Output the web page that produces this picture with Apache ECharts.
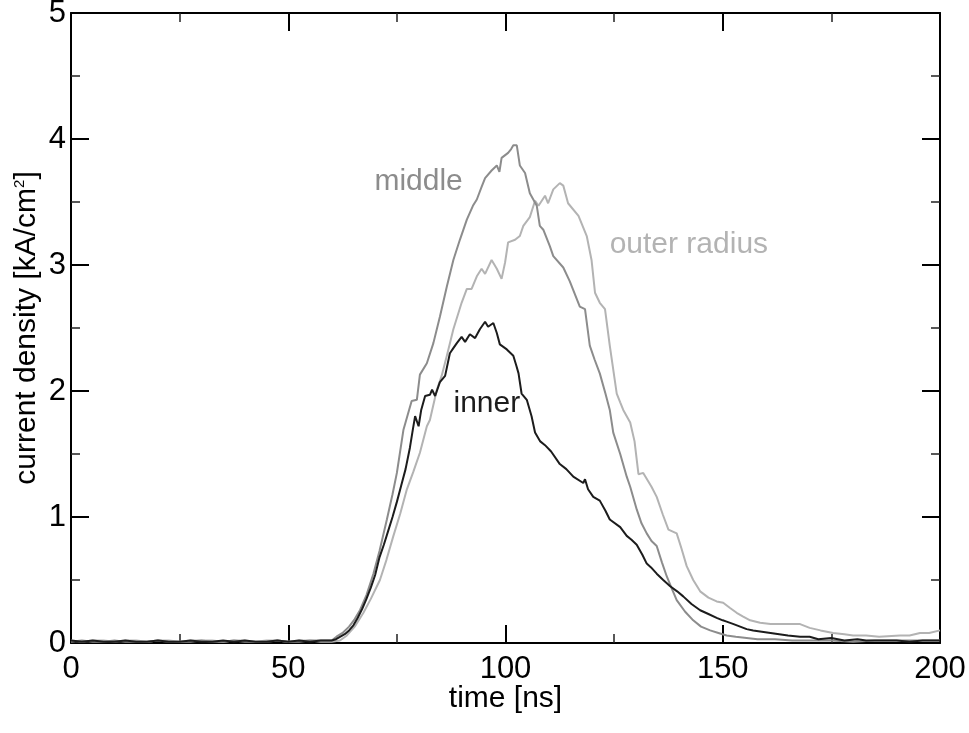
<!DOCTYPE html>
<html>
<head>
<meta charset="utf-8">
<script src="https://cdn.jsdelivr.net/npm/echarts@6/dist/echarts.min.js"></script>
<style>html,body{margin:0;padding:0;background:#fff}#c{width:969px;height:733px}</style>
</head>
<body>
<div id="c"></div>
<script>
// ---- data (time in ns, current density in kA/cm^2) ----
var innerT = [0,2.5,5,7.5,10,12.5,15,17.5,20,22.5,25,27.5,30,32.5,35,37.5,40,42.5,45,47.5,50,52.5,55,57.5,60,61,62,63,64,65,66,67,68,69,70,71,72,73,74,75,76,77,78,78.7,79.2,79.6,80,80.6,81.5,82.6,83.1,83.8,84.9,86.1,87.2,88,88.8,89.9,90.7,91.8,93,94.1,95.3,96,97.2,98,98.7,99.5,100.3,101.8,102.5,103,103.7,104.9,106,106.8,108,109.1,110.5,112.5,114,115.6,117.9,118.3,119,120.2,121.7,123,124,126.4,127.9,129,130.2,131.5,132.5,133.5,134.8,136.3,137.9,139.5,140.9,142.8,144.8,146.7,148.6,150,150.9,152.5,154,155.5,157,159,161,163,165,167.8,170,172,175,178,181,183,186,190,193,196,200];
var innerV = [0.02,0.01,0.02,0.01,0.01,0.02,0.01,0.01,0.02,0.01,0.01,0.02,0.01,0.01,0.02,0.01,0.02,0.01,0.01,0.02,0.01,0.02,0.01,0.02,0.02,0.03,0.05,0.07,0.10,0.14,0.20,0.27,0.35,0.44,0.54,0.68,0.78,0.89,1.00,1.12,1.25,1.38,1.55,1.70,1.80,1.76,1.72,1.85,1.96,1.97,2.01,1.96,2.07,2.12,2.30,2.34,2.38,2.43,2.39,2.45,2.42,2.49,2.55,2.51,2.54,2.46,2.37,2.35,2.33,2.28,2.20,2.14,1.98,1.93,1.80,1.67,1.60,1.57,1.52,1.42,1.38,1.32,1.27,1.30,1.22,1.16,1.13,1.05,0.98,0.92,0.85,0.82,0.78,0.70,0.63,0.60,0.55,0.50,0.45,0.41,0.37,0.31,0.26,0.23,0.20,0.18,0.17,0.15,0.13,0.11,0.10,0.09,0.08,0.07,0.06,0.05,0.05,0.03,0.04,0.02,0.03,0.02,0.02,0.02,0.01,0.02,0.02];

var middleT = [0,2.5,5,7.5,10,12.5,15,17.5,20,22.5,25,27.5,30,32.5,35,37.5,40,42.5,45,47.5,50,52.5,55,57.5,60,61.1,62.5,64,65.3,66.5,68,69.6,71,72.7,74,75,76.5,78.4,79.6,80.3,81.9,83.4,84.9,86.5,88,89.5,91.1,92.5,93.4,94.5,95.3,96.8,98,98.6,99.1,100.6,101.3,101.8,102.6,103.3,104.5,105.6,107.2,107.9,108.7,110.2,111,111.4,113.3,114.8,115.2,117.1,118.3,119.4,120.5,121.7,123,124,124.8,126.4,127.9,128.7,130.2,131.3,132.5,133.6,134.8,136,137.1,138.3,139.4,141.3,143.2,145,147.1,149,150.9,153,155.5,158,162,166,170,175,180,185,190,195,200];
var middleV = [0.01,0.02,0.01,0.01,0.02,0.01,0.01,0.01,0.02,0.01,0.01,0.01,0.02,0.01,0.01,0.02,0.01,0.01,0.01,0.02,0.01,0.01,0.02,0.02,0.02,0.05,0.08,0.13,0.19,0.26,0.38,0.55,0.73,0.98,1.18,1.35,1.69,1.92,1.93,2.13,2.22,2.38,2.59,2.83,3.04,3.20,3.36,3.47,3.52,3.62,3.69,3.75,3.79,3.74,3.85,3.89,3.92,3.95,3.95,3.79,3.73,3.57,3.47,3.31,3.28,3.15,3.07,3.06,2.98,2.87,2.86,2.67,2.65,2.36,2.25,2.14,1.98,1.85,1.67,1.50,1.32,1.24,1.06,0.95,0.87,0.81,0.77,0.64,0.53,0.43,0.34,0.25,0.18,0.13,0.10,0.08,0.06,0.05,0.04,0.03,0.03,0.02,0.02,0.02,0.01,0.02,0.02,0.02,0.02];

var outerT = [0,2.5,5,7.5,10,12.5,15,17.5,20,22.5,25,27.5,30,32.5,35,37.5,40,42.5,45,47.5,50,52.5,55,57.5,60,61.9,63.5,65.3,67.3,69,71.1,72.6,74.2,75.8,77.3,78.8,80.3,81.9,82.6,84.2,85.3,86.5,88,89.9,91.1,92.2,93.4,94.5,95.3,96.8,98,99.1,99.9,100.6,102.2,103.3,104.1,105.6,106.8,107.6,109.1,109.8,111,112.5,113.3,114.4,116.8,118.7,119.8,120.6,121.7,122.9,124,125.6,126.4,127.1,128.7,129.7,130.6,131.7,133.6,134.8,136.2,137.5,139.4,140.5,141.7,143.2,144.8,146.7,148.6,150.1,151.6,153.2,154.7,156.3,158.6,161,164,167.8,170,172.5,175.4,178,180,183,186,190.8,193,195.4,197.5,200];
var outerV = [0.02,0.01,0.02,0.02,0.01,0.02,0.02,0.01,0.02,0.02,0.01,0.02,0.02,0.02,0.01,0.02,0.02,0.01,0.02,0.02,0.01,0.02,0.02,0.01,0.01,0.02,0.06,0.13,0.24,0.35,0.50,0.66,0.85,1.03,1.22,1.36,1.51,1.72,1.77,2.01,2.12,2.28,2.49,2.70,2.81,2.81,2.91,2.97,2.93,3.04,2.97,2.89,3.02,3.18,3.20,3.23,3.31,3.38,3.51,3.47,3.55,3.49,3.60,3.65,3.63,3.49,3.39,3.23,3.04,2.78,2.70,2.65,2.36,1.98,1.91,1.85,1.75,1.60,1.34,1.35,1.24,1.16,1.02,0.90,0.87,0.75,0.61,0.50,0.41,0.36,0.33,0.32,0.28,0.24,0.21,0.18,0.16,0.15,0.15,0.15,0.12,0.10,0.08,0.07,0.06,0.06,0.05,0.06,0.06,0.08,0.08,0.10];

var xTicks = [0, 50, 100, 150, 200];
var yTicks = [0, 1, 2, 3, 4, 5];
var seriesNames = ['outer radius', 'middle', 'inner'];
var labelPos = { 'middle': [80, 3.66], 'outer radius': [142.2, 3.16], 'inner': [95.7, 1.90] };

function pairs(t, v) { return t.map(function (x, i) { return [x, v[i]]; }); }

var FONT = 'Liberation Sans';
var colors = { 'outer radius': '#b3b3b3', 'middle': '#8c8c8c', 'inner': '#1c1c1c' };
var dataMap = { 'outer radius': pairs(outerT, outerV), 'middle': pairs(middleT, middleV), 'inner': pairs(innerT, innerV) };

var chart = echarts.init(document.getElementById('c'), null, { renderer: 'canvas' });

function axisCommon(showLabels) {
  return {
    axisLine: { show: true, onZero: false, lineStyle: { color: '#000', width: 2 } },
    axisTick: { show: true, inside: true, length: 18, lineStyle: { color: '#000', width: 2 } },
    minorTick: { show: true, splitNumber: 2, length: 9, lineStyle: { color: '#222', width: 1.5 } },
    splitLine: { show: false },
    axisLabel: { show: showLabels, color: '#000', fontFamily: FONT, fontSize: 31 }
  };
}

var xBottom = Object.assign(axisCommon(true), {
  type: 'value', position: 'bottom', min: xTicks[0], max: xTicks[xTicks.length - 1], interval: 50,
  name: 'time [ns]', nameLocation: 'middle', nameGap: 41, nameMoveOverlap: false,
  nameTextStyle: { color: '#000', fontFamily: FONT, fontSize: 30 }
});
xBottom.axisLabel.margin = 11;
var xTop = Object.assign(axisCommon(false), {
  type: 'value', position: 'top', min: xTicks[0], max: xTicks[xTicks.length - 1], interval: 50
});
var yLeft = Object.assign(axisCommon(true), {
  type: 'value', position: 'left', min: yTicks[0], max: yTicks[yTicks.length - 1], interval: 1,
  name: 'current density [kA/cm{sup|2}]', nameLocation: 'middle', nameGap: 29, nameRotate: 90, nameMoveOverlap: false,
  nameTextStyle: { color: '#000', fontFamily: FONT, fontSize: 30,
    rich: { sup: { fontSize: 15, fontFamily: FONT, color: '#000', verticalAlign: 'top', padding: [0, 0, 14, 0] } } }
});
yLeft.axisLabel.margin = 5;
var yRight = Object.assign(axisCommon(false), {
  type: 'value', position: 'right', min: yTicks[0], max: yTicks[yTicks.length - 1], interval: 1
});

var series = seriesNames.map(function (n) {
  return {
    name: n, type: 'line', xAxisIndex: 0, yAxisIndex: 0,
    data: dataMap[n], showSymbol: false, symbol: 'none', smooth: false,
    lineStyle: { color: colors[n], width: 2 },
    animation: false,
    markPoint: {
      symbol: 'circle', symbolSize: 0, animation: false,
      data: [{ coord: labelPos[n], value: n }],
      label: { show: true, position: 'inside', formatter: n, color: colors[n], fontFamily: FONT, fontSize: 30 }
    }
  };
});

chart.setOption({
  backgroundColor: '#fff',
  animation: false,
  grid: { left: 71, right: 29, top: 13, bottom: 90, containLabel: false, outerBoundsMode: 'none' },
  xAxis: [xBottom, xTop],
  yAxis: [yLeft, yRight],
  series: series
});
</script>
</body>
</html>
